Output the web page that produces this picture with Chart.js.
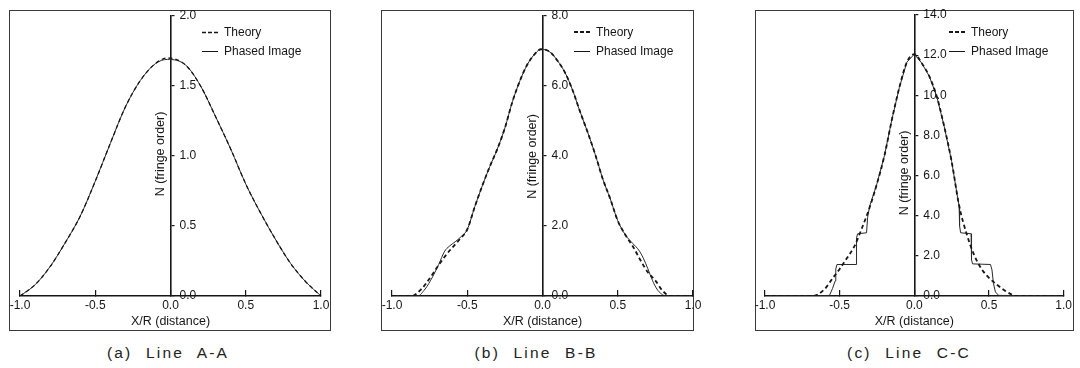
<!DOCTYPE html>
<html><head><meta charset="utf-8">
<script src="https://cdn.jsdelivr.net/npm/chart.js@4.4.1/dist/chart.umd.min.js"></script>
<style>
html,body{margin:0;padding:0;background:#fff;}
body{width:1080px;height:368px;position:relative;overflow:hidden;}
.frame{position:absolute;border:1px solid #3a3a3a;box-sizing:border-box;}
canvas{position:absolute;top:0;}
.cap{position:absolute;top:345px;font-family:"Liberation Sans",Arial,sans-serif;font-size:15.5px;line-height:16px;color:#222;letter-spacing:2.2px;word-spacing:7px;white-space:pre;transform:translateX(-50%);}
</style></head><body>
<div class="frame" style="left:9px;top:10px;width:322px;height:321px"></div>
<div class="frame" style="left:381px;top:10px;width:313px;height:321px"></div>
<div class="frame" style="left:755px;top:10px;width:319px;height:321px"></div>
<canvas id="cA" width="350" height="340" style="left:0px"></canvas>
<canvas id="cB" width="350" height="340" style="left:360px"></canvas>
<canvas id="cC" width="360" height="340" style="left:720px"></canvas>
<div class="cap" id="capA" style="left:168px"></div>
<div class="cap" id="capB" style="left:536px"></div>
<div class="cap" id="capC" style="left:909px"></div>
<script>
// ---------- data ----------
const seriesNames = ['Theory', 'Phased Image'];
const captions = ['(a) Line A-A', '(b) Line B-B', '(c) Line C-C'];
const xAxisTitle = 'X/R (distance)';
const yAxisTitle = 'N (fringe order)';
const xTickVals = [-1.0, -0.5, 0.0, 0.5, 1.0];
const yTicksA = [0.0, 0.5, 1.0, 1.5, 2.0];
const yTicksB = [0.0, 2.0, 4.0, 6.0, 8.0];
const yTicksC = [0.0, 2.0, 4.0, 6.0, 8.0, 10.0, 12.0, 14.0];

// Panel (a) Line A-A
const xTheoryA = [-1.0, -0.9, -0.8, -0.7, -0.6, -0.5, -0.4, -0.3, -0.2, -0.1, -0.02, 0.1, 0.2, 0.3, 0.4, 0.5, 0.6, 0.7, 0.8, 0.9, 1.0];
const nTheoryA = [0.0, 0.08, 0.21, 0.38, 0.57, 0.82, 1.09, 1.35, 1.54, 1.66, 1.70, 1.65, 1.50, 1.28, 1.05, 0.80, 0.59, 0.40, 0.23, 0.10, 0.0];
const xPhasedA = [-1.0, -0.9, -0.8, -0.7, -0.6, -0.5, -0.4, -0.3, -0.2, -0.1, -0.02, 0.1, 0.2, 0.3, 0.4, 0.5, 0.6, 0.7, 0.8, 0.9, 1.0];
const nPhasedA = [0.0, 0.08, 0.21, 0.38, 0.57, 0.82, 1.09, 1.35, 1.54, 1.66, 1.69, 1.65, 1.50, 1.28, 1.05, 0.80, 0.59, 0.40, 0.23, 0.10, 0.0];

// Panel (b) Line B-B
const xTheoryB = [-1.0, -0.87, -0.8, -0.75, -0.7, -0.65, -0.6, -0.55, -0.5, -0.45, -0.4, -0.35, -0.3, -0.25, -0.2, -0.15, -0.1, -0.05, -0.01, 0.05, 0.1, 0.15, 0.2, 0.25, 0.3, 0.35, 0.4, 0.45, 0.5, 0.55, 0.6, 0.65, 0.7, 0.75, 0.8, 0.85, 1.0];
const nTheoryB = [0.0, 0.0, 0.22, 0.5, 0.82, 1.12, 1.38, 1.62, 1.9, 2.55, 3.15, 3.7, 4.2, 4.8, 5.55, 6.15, 6.62, 6.92, 7.05, 6.97, 6.72, 6.38, 5.88, 5.26, 4.68, 4.05, 3.35, 2.78, 2.15, 1.75, 1.42, 1.03, 0.68, 0.44, 0.14, 0.0, 0.0];
const xPhasedB = [-1.0, -0.83, -0.78, -0.73, -0.69, -0.65, -0.62, -0.58, -0.54, -0.5, -0.45, -0.4, -0.35, -0.3, -0.25, -0.2, -0.15, -0.1, -0.05, -0.01, 0.05, 0.1, 0.15, 0.2, 0.25, 0.3, 0.35, 0.4, 0.45, 0.5, 0.55, 0.6, 0.64, 0.67, 0.7, 0.73, 0.76, 0.79, 0.82, 1.0];
const nPhasedB = [0.0, 0.0, 0.2, 0.55, 0.9, 1.28, 1.42, 1.55, 1.7, 1.9, 2.55, 3.15, 3.7, 4.2, 4.8, 5.55, 6.15, 6.62, 6.92, 7.05, 6.97, 6.72, 6.38, 5.88, 5.26, 4.68, 4.05, 3.35, 2.78, 2.15, 1.75, 1.5, 1.31, 1.08, 0.78, 0.45, 0.2, 0.06, 0.0, 0.0];

// Panel (c) Line C-C
const xTheoryC = [-1.0, -0.68, -0.6, -0.55, -0.5, -0.45, -0.4, -0.35, -0.3, -0.25, -0.2, -0.15, -0.1, -0.05, 0.0, 0.05, 0.1, 0.15, 0.2, 0.25, 0.3, 0.35, 0.4, 0.45, 0.5, 0.55, 0.6, 0.65, 0.68, 1.0];
const nTheoryC = [0.0, 0.0, 0.35, 0.85, 1.35, 1.9, 2.5, 3.4, 4.4, 5.6, 7.0, 8.8, 10.4, 11.65, 12.05, 11.6, 10.95, 9.95, 8.45, 6.7, 4.5, 3.1, 2.05, 1.35, 0.9, 0.58, 0.3, 0.08, 0.0, 0.0];
const xPhasedC = [-1.0, -0.57, -0.548, -0.53, -0.526, -0.518, -0.39, -0.387, -0.38, -0.32, -0.313, -0.3, -0.25, -0.2, -0.15, -0.1, -0.05, 0.0, 0.05, 0.1, 0.15, 0.2, 0.25, 0.29, 0.3, 0.303, 0.31, 0.38, 0.383, 0.39, 0.51, 0.52, 0.53, 0.543, 0.565, 1.0];
const nPhasedC = [0.0, 0.0, 0.37, 0.75, 1.35, 1.57, 1.57, 2.9, 3.1, 3.15, 3.9, 4.45, 5.6, 7.0, 8.8, 10.4, 11.65, 12.05, 11.6, 10.95, 9.95, 8.45, 6.7, 4.9, 4.5, 3.5, 3.15, 3.1, 1.8, 1.6, 1.57, 1.3, 0.62, 0.2, 0.03, 0.0];

// ---------- rendering ----------
const FONT = '"Liberation Sans", Arial, Helvetica, sans-serif';
const INK = '#161616';
const pts = (xs, ys) => xs.map((x, i) => ({x: x, y: ys[i]}));
const fmt = v => Number(v).toFixed(1);

// small legend line samples (used as legend point styles)
function legendSample(dashed, lw) {
  const c = document.createElement('canvas');
  c.width = 16; c.height = 5;
  const g = c.getContext('2d');
  g.strokeStyle = INK; g.lineWidth = lw;
  if (dashed) g.setLineDash([4, 2]);
  const y = lw < 1.5 ? 2.5 : 2;
  g.beginPath(); g.moveTo(0, y); g.lineTo(16, y); g.stroke();
  return c;
}

function centerPlugin(p) {
  return {
    id: 'centerAxes',
    afterLayout(chart) {
      const xs = chart.scales.x, ys = chart.scales.y, yt = chart.scales.yt;
      const px = xs.getPixelForValue(0);
      ys.left = px; ys.right = px + 60; ys.width = 60;
      yt.left = px - 17; yt.right = px; yt.width = 17;
      yt.top = p.titleY - 120; yt.bottom = p.titleY + 120; yt.height = 240;
      const lg = chart.legend;
      if (lg) {
        const w = lg.width, h = lg.height;
        lg.left = p.legX; lg.top = p.legY; lg.right = p.legX + w; lg.bottom = p.legY + h;
      }
    }
  };
}

function makePanel(id, p) {
  new Chart(document.getElementById(id), {
    type: 'scatter',
    data: {
      datasets: [
        {label: seriesNames[0], data: pts(p.xT, p.yT), showLine: true, borderColor: INK, backgroundColor: 'rgba(0,0,0,0)',
         borderWidth: p.dashW, borderDash: [4, 3], pointRadius: 0, pointStyle: legendSample(true, p.dashW),
         cubicInterpolationMode: 'monotone', fill: false},
        {label: seriesNames[1], data: pts(p.xP, p.yP), showLine: true, borderColor: '#2a2a2a', backgroundColor: 'rgba(0,0,0,0)',
         borderWidth: 1, pointRadius: 0, pointStyle: legendSample(false, 1),
         cubicInterpolationMode: p.stepped ? 'default' : 'monotone', tension: 0, fill: false}
      ]
    },
    options: {
      responsive: false, animation: false, devicePixelRatio: 1,
      layout: {padding: p.pad},
      events: [],
      plugins: {
        tooltip: {enabled: false},
        legend: {
          position: 'chartArea', align: 'start',
          labels: {usePointStyle: true, pointStyleWidth: 16, boxHeight: 12,
                   padding: 7, color: INK, font: {family: FONT, size: 12}}
        }
      },
      scales: {
        x: {
          type: 'linear', position: 'bottom', min: -1, max: 1,
          afterBuildTicks: s => { s.ticks = xTickVals.map(v => ({value: v})); },
          afterFit: s => { s.height = 33; },
          ticks: {callback: fmt, color: INK, font: {family: FONT, size: 12}, padding: 8, maxRotation: 0, autoSkip: false},
          grid: {display: true, drawOnChartArea: false, drawTicks: true, tickLength: -6, color: INK, lineWidth: 1.2},
          border: {display: true, color: INK, width: 1.6},
          title: {display: true, text: xAxisTitle, color: INK, font: {family: FONT, size: 12.5}, padding: {top: 0, bottom: 0}}
        },
        y: {
          type: 'linear', position: 'right', min: 0, max: p.yMax,
          afterBuildTicks: s => { s.ticks = p.yTicks.map(v => ({value: v})); },
          afterFit: s => { s.width = 0; },
          ticks: {callback: fmt, color: INK, font: {family: FONT, size: 12}, padding: 5, autoSkip: false},
          grid: {display: true, drawOnChartArea: false, drawTicks: true, tickLength: 4, color: INK, lineWidth: 1.2},
          border: {display: true, color: INK, width: 1.6}
        },
        yt: {
          type: 'linear', position: 'left', min: 0, max: p.yMax,
          afterFit: s => { s.width = 0; },
          ticks: {display: false}, grid: {display: false}, border: {display: false},
          title: {display: true, text: yAxisTitle, color: INK, font: {family: FONT, size: 12.5}, padding: 0}
        }
      }
    },
    plugins: [centerPlugin(p)]
  });
}

makePanel('cA', {xT: xTheoryA, yT: nTheoryA, xP: xPhasedA, yP: nPhasedA, yMax: 2, yTicks: yTicksA, dashW: 1.3,
  pad: {left: 20, top: 16, right: 29, bottom: 11}, legX: 195, legY: 19.5, titleY: 154});
makePanel('cB', {xT: xTheoryB, yT: nTheoryB, xP: xPhasedB, yP: nPhasedB, yMax: 8, yTicks: yTicksB, dashW: 1.8,
  pad: {left: 32, top: 16, right: 17, bottom: 11}, legX: 207, legY: 19.5, titleY: 156.5});
makePanel('cC', {xT: xTheoryC, yT: nTheoryC, xP: xPhasedC, yP: nPhasedC, yMax: 14, yTicks: yTicksC, dashW: 1.8, stepped: true,
  pad: {left: 45, top: 15, right: 12, bottom: 11}, legX: 222, legY: 19.5, titleY: 173});

document.getElementById('capA').textContent = captions[0];
document.getElementById('capB').textContent = captions[1];
document.getElementById('capC').textContent = captions[2];
</script>
</body></html>
